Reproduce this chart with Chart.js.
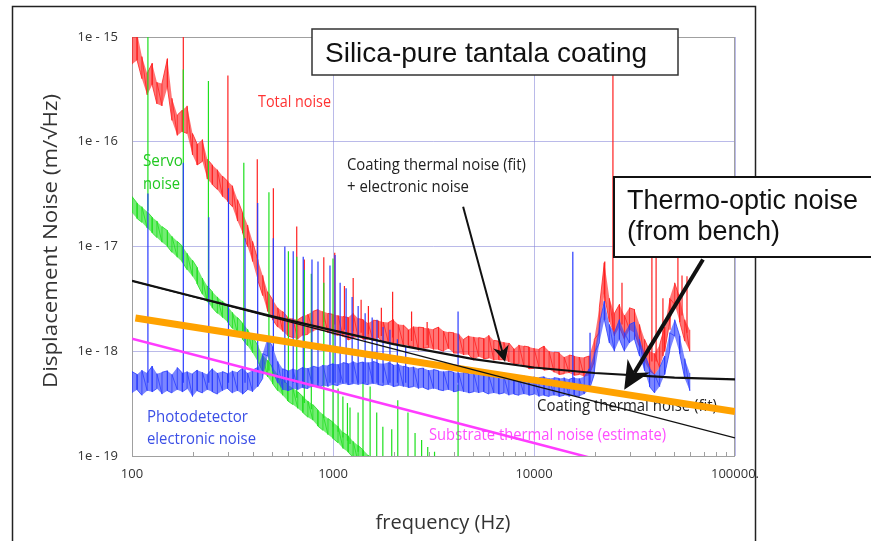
<!DOCTYPE html>
<html>
<head>
<meta charset="utf-8">
<script src="https://cdn.jsdelivr.net/npm/chart.js@4.4.1/dist/chart.umd.min.js"></script>
<style>
  html, body { margin: 0; padding: 0; background: #fff; }
  canvas { display: block; }
</style>
</head>
<body>
<canvas id="noiseChart" width="871" height="541"></canvas>
<script>
// spectrum bins (Hz), shared by the measured traces
const freqHz = [100, 106, 112, 119, 126, 133, 141, 150, 158, 168,
  178, 188, 200, 211, 224, 237, 251, 266, 282, 299,
  316, 335, 355, 376, 398, 422, 447, 473, 501, 531,
  562, 596, 631, 668, 708, 750, 794, 841, 891, 944,
  1000, 1059, 1122, 1189, 1259, 1334, 1413, 1496, 1585, 1679,
  1778, 1884, 1995, 2113, 2239, 2371, 2512, 2661, 2818, 2985,
  3162, 3350, 3548, 3758, 3981, 4217, 4467, 4732, 5012, 5309,
  5623, 5957, 6310, 6683, 7079, 7499, 7943, 8414, 8913, 9441,
  10000, 10593, 11220, 11885, 12589, 13335, 14125, 14962, 15849, 16788,
  17783, 18836, 19953, 21135, 22387, 23714, 25119, 26607, 28184, 29854,
  31623, 33497, 35481, 37584, 39811, 42170, 44668, 47315, 50119, 53088,
  56234, 59566];

// measured displacement noise, m/sqrt(Hz): low and high reading in each bin
const totalNoiseMin = [5.5e-16, 6.0e-16, 4.0e-16, 2.8e-16, 3.5e-16, 2.3e-16, 2.2e-16, 3.3e-16, 1.6e-16, 1.15e-16,
  1.25e-16, 1.2e-16, 7.5e-17, 6.0e-17, 6.5e-17, 4.4e-17, 3.9e-17, 3.5e-17, 3.0e-17, 2.7e-17,
  2.4e-17, 1.75e-17, 1.35e-17, 1.0e-17, 7.2e-18, 4.8e-18, 3.4e-18, 2.4e-18, 2.0e-18, 1.7e-18,
  1.55e-18, 1.4e-18, 1.35e-18, 1.3e-18, 1.42e-18, 1.45e-18, 1.55e-18, 1.62e-18, 1.58e-18, 1.5e-18,
  1.45e-18, 1.42e-18, 1.38e-18, 1.28e-18, 1.34e-18, 1.36e-18, 1.3e-18, 1.31e-18, 1.26e-18, 1.35e-18,
  1.22e-18, 1.23e-18, 1.19e-18, 1.18e-18, 1.15e-18, 1.14e-18, 1.1e-18, 1.02e-18, 1.07e-18, 1.08e-18,
  1.04e-18, 1.04e-18, 1.0e-18, 1.06e-18, 9.6e-19, 9.6e-19, 9.2e-19, 9.3e-19, 8.2e-19, 8.9e-19,
  8.5e-19, 8.6e-19, 8.2e-19, 8.3e-19, 8.3e-19, 7.9e-19, 7.5e-19, 7.6e-19, 7.2e-19, 6.8e-19,
  6.9e-19, 7.0e-19, 6.6e-19, 6.7e-19, 6.3e-19, 6.0e-19, 6.1e-19, 6.2e-19, 5.9e-19, 6.0e-19,
  5.7e-19, 5.9e-19, 8.0e-19, 1.5e-18, 3.5e-18, 1.9e-18, 1.4e-18, 1.7e-18, 1.3e-18, 1.6e-18,
  1.5e-18, 1.1e-18, 8.0e-19, 6.5e-19, 6.0e-19, 7.0e-19, 1.0e-18, 1.9e-18, 2.8e-18, 1.9e-18,
  1.25e-18, 1.0e-18];
const totalNoiseMax = [1.1e-15, 1.1e-15, 6.5e-16, 4.5e-16, 5.6e-16, 3.7e-16, 3.6e-16, 6.2e-16, 2.6e-16, 1.8e-16,
  2.0e-16, 2.2e-16, 1.2e-16, 9.5e-17, 1.05e-16, 6.8e-17, 6.0e-17, 5.4e-17, 4.7e-17, 4.2e-17,
  3.8e-17, 2.8e-17, 2.1e-17, 1.6e-17, 1.12e-17, 7.5e-18, 5.3e-18, 3.7e-18, 3.1e-18, 2.6e-18,
  2.4e-18, 2.1e-18, 2.05e-18, 2.0e-18, 2.15e-18, 2.25e-18, 2.4e-18, 2.5e-18, 2.4e-18, 2.3e-18,
  2.25e-18, 2.2e-18, 2.15e-18, 2.1e-18, 2.3e-18, 2.05e-18, 2.0e-18, 1.85e-18, 1.98e-18, 1.95e-18,
  1.9e-18, 1.88e-18, 2.0e-18, 1.8e-18, 1.78e-18, 1.6e-18, 1.72e-18, 1.7e-18, 1.68e-18, 1.65e-18,
  1.62e-18, 1.7e-18, 1.56e-18, 1.52e-18, 1.5e-18, 1.47e-18, 1.3e-18, 1.4e-18, 1.37e-18, 1.35e-18,
  1.32e-18, 1.42e-18, 1.27e-18, 1.25e-18, 1.22e-18, 1.2e-18, 1.05e-18, 1.15e-18, 1.12e-18, 1.1e-18,
  1.07e-18, 1.05e-18, 1.12e-18, 1.0e-18, 9.8e-19, 9.7e-19, 8.8e-19, 9.2e-19, 9.0e-19, 8.8e-19,
  8.7e-19, 9.0e-19, 1.3e-18, 2.6e-18, 7.0e-18, 3.2e-18, 2.3e-18, 2.8e-18, 2.2e-18, 2.6e-18,
  2.5e-18, 1.8e-18, 1.3e-18, 1.0e-18, 9.5e-19, 1.15e-18, 1.7e-18, 3.2e-18, 4.5e-18, 3.2e-18,
  2.0e-18, 1.6e-18];

const photodetectorMin = [4.0e-19, 4.3e-19, 3.8e-19, 4.2e-19, 4.1e-19, 4.4e-19, 3.9e-19, 4.2e-19, 4.0e-19, 4.3e-19,
  4.1e-19, 4.4e-19, 3.7e-19, 4.2e-19, 4.0e-19, 4.3e-19, 4.1e-19, 3.9e-19, 4.2e-19, 4.4e-19,
  4.0e-19, 4.2e-19, 3.9e-19, 4.3e-19, 4.1e-19, 4.6e-19, 5.5e-19, 9.0e-19, 6.5e-19, 5.0e-19,
  4.3e-19, 4.2e-19, 4.4e-19, 4.3e-19, 4.5e-19, 4.4e-19, 4.6e-19, 4.5e-19, 4.7e-19, 4.6e-19,
  4.8e-19, 4.7e-19, 4.9e-19, 4.8e-19, 4.9e-19, 4.8e-19, 4.9e-19, 4.8e-19, 4.9e-19, 4.8e-19,
  4.7e-19, 4.8e-19, 4.6e-19, 4.7e-19, 4.6e-19, 4.5e-19, 4.6e-19, 4.4e-19, 4.5e-19, 4.3e-19,
  4.4e-19, 4.3e-19, 4.2e-19, 4.3e-19, 4.1e-19, 4.2e-19, 4.1e-19, 4.0e-19, 4.1e-19, 4.0e-19,
  4.1e-19, 3.9e-19, 4.0e-19, 3.9e-19, 4.0e-19, 3.8e-19, 3.9e-19, 3.8e-19, 3.9e-19, 3.8e-19,
  3.9e-19, 3.7e-19, 3.8e-19, 3.7e-19, 3.8e-19, 3.7e-19, 3.8e-19, 3.7e-19, 3.8e-19, 3.7e-19,
  3.9e-19, 4.3e-19, 6.0e-19, 1.2e-18, 2.0e-18, 1.2e-18, 1.0e-18, 1.3e-18, 1.0e-18, 1.2e-18,
  1.3e-18, 9.0e-19, 6.5e-19, 4.6e-19, 4.0e-19, 4.6e-19, 6.0e-19, 1.0e-18, 1.4e-18, 9.5e-19,
  5.5e-19, 4.2e-19];
const photodetectorMax = [6.4e-19, 6.0e-19, 6.6e-19, 6.2e-19, 7.2e-19, 6.1e-19, 6.3e-19, 6.5e-19, 6.0e-19, 7.0e-19,
  6.2e-19, 6.4e-19, 6.1e-19, 6.6e-19, 6.3e-19, 6.0e-19, 6.8e-19, 6.2e-19, 6.4e-19, 6.1e-19,
  6.5e-19, 6.3e-19, 6.9e-19, 6.2e-19, 6.6e-19, 7.0e-19, 9.5e-19, 1.35e-18, 1.1e-18, 8.0e-19,
  6.8e-19, 6.5e-19, 6.8e-19, 6.6e-19, 7.0e-19, 6.9e-19, 7.2e-19, 7.0e-19, 7.4e-19, 7.3e-19,
  7.6e-19, 7.5e-19, 7.8e-19, 7.6e-19, 8.0e-19, 7.7e-19, 7.9e-19, 7.8e-19, 8.0e-19, 7.7e-19,
  7.6e-19, 7.8e-19, 7.4e-19, 7.5e-19, 7.2e-19, 7.0e-19, 7.1e-19, 6.8e-19, 6.9e-19, 6.6e-19,
  6.7e-19, 6.5e-19, 6.4e-19, 6.5e-19, 6.3e-19, 6.2e-19, 6.3e-19, 6.1e-19, 6.2e-19, 6.0e-19,
  6.1e-19, 5.9e-19, 6.0e-19, 5.9e-19, 5.8e-19, 5.9e-19, 5.8e-19, 5.7e-19, 5.8e-19, 5.6e-19,
  5.7e-19, 5.6e-19, 5.7e-19, 5.5e-19, 5.6e-19, 5.5e-19, 5.6e-19, 5.4e-19, 5.6e-19, 5.5e-19,
  5.7e-19, 6.8e-19, 9.5e-19, 1.8e-18, 3.0e-18, 1.8e-18, 1.5e-18, 2.0e-18, 1.5e-18, 1.8e-18,
  1.9e-18, 1.3e-18, 9.5e-19, 7.0e-19, 6.0e-19, 7.0e-19, 9.0e-19, 1.5e-18, 2.0e-18, 1.4e-18,
  8.5e-19, 6.2e-19];

// servo trace falls below the plot floor above ~1.5 kHz
const servoMin = [2.1e-17, 1.85e-17, 1.7e-17, 1.5e-17, 1.35e-17, 1.22e-17, 1.1e-17, 1.0e-17, 8.8e-18, 7.9e-18,
  7.1e-18, 6.0e-18, 5.2e-18, 4.4e-18, 3.5e-18, 2.95e-18, 2.6e-18, 2.3e-18, 2.1e-18, 1.9e-18,
  1.65e-18, 1.47e-18, 1.3e-18, 1.13e-18, 9.7e-19, 8.0e-19, 6.4e-19, 5.7e-19, 4.9e-19, 4.2e-19,
  3.8e-19, 3.35e-19, 3.1e-19, 2.85e-19, 2.6e-19, 2.35e-19, 2.2e-19, 1.93e-19, 1.76e-19, 1.6e-19,
  1.47e-19, 1.34e-19, 1.18e-19, 1.09e-19, 9.7e-20, 8.8e-20, 8.0e-20, 7.1e-20, 6.5e-20];
const servoMax = [3.0e-17, 2.6e-17, 2.4e-17, 2.15e-17, 1.9e-17, 1.75e-17, 1.55e-17, 1.42e-17, 1.25e-17, 1.12e-17,
  1.01e-17, 8.6e-18, 7.4e-18, 6.3e-18, 5.0e-18, 4.2e-18, 3.7e-18, 3.3e-18, 3.0e-18, 2.7e-18,
  2.35e-18, 2.1e-18, 1.85e-18, 1.62e-18, 1.38e-18, 1.14e-18, 9.1e-19, 8.2e-19, 7.0e-19, 6.0e-19,
  5.4e-19, 4.8e-19, 4.45e-19, 4.1e-19, 3.7e-19, 3.35e-19, 3.1e-19, 2.75e-19, 2.5e-19, 2.28e-19,
  2.1e-19, 1.92e-19, 1.68e-19, 1.56e-19, 1.38e-19, 1.26e-19, 1.14e-19, 1.02e-19, 9.4e-20];

// narrow lines: [frequency, floor, peak]
const totalLines = [[180, 1.6e-16, 3e-15], [300, 3.2e-17, 4.3e-16], [420, 6e-18, 6.8e-17],
  [505, 2.4e-18, 3.6e-17], [660, 1.7e-18, 1.55e-17], [720, 1.8e-18, 7.5e-18],
  [900, 1.9e-18, 7.9e-18], [1020, 1.8e-18, 8.7e-18], [1140, 1.6e-18, 4.2e-18],
  [1260, 1.55e-18, 5.0e-18], [1380, 1.5e-18, 3.1e-18], [1500, 1.45e-18, 2.7e-18],
  [1740, 1.4e-18, 2.6e-18], [1980, 1.35e-18, 3.7e-18], [2460, 1.25e-18, 2.4e-18],
  [2940, 1.15e-18, 1.9e-18], [22500, 2.0e-18, 7.2e-18], [24700, 1.6e-18, 3e-15],
  [27400, 1.8e-18, 4.5e-18], [38600, 8e-19, 1.3e-17], [40500, 8e-19, 1.3e-17],
  [43800, 9e-19, 3.2e-18], [47500, 1.6e-18, 3.1e-18], [52000, 3e-18, 1.3e-17],
  [54500, 2.2e-18, 5.3e-18], [57700, 1.5e-18, 5.2e-18]];

const photodetectorLines = [[120, 5e-19, 3.2e-17], [180, 5e-19, 6.3e-17], [241, 5e-19, 1.9e-17],
  [302, 5e-19, 3.6e-17], [365, 5e-19, 1.2e-17], [422, 5e-19, 2.6e-17], [505, 1e-18, 1.2e-17],
  [576, 5e-19, 1.0e-17], [634, 5e-19, 9e-18], [711, 5e-19, 8e-18], [786, 5e-19, 7.5e-18],
  [842, 5e-19, 7.2e-18], [966, 5e-19, 6.6e-18], [1024, 5e-19, 8.3e-18], [1085, 5e-19, 4.5e-18],
  [1162, 5e-19, 4.0e-18], [1245, 5e-19, 3.3e-18], [1334, 5e-19, 2.7e-18], [1445, 5e-19, 2.3e-18],
  [1566, 5e-19, 2.1e-18], [1655, 5e-19, 2.0e-18], [1774, 5e-19, 1.7e-18], [1920, 5e-19, 1.6e-18],
  [2090, 5e-19, 1.3e-18], [2300, 5e-19, 1.1e-18], [4190, 5e-19, 2.4e-18],
  [15600, 5e-19, 8.9e-18], [19000, 5e-19, 1.5e-18]];

const servoLines = [[120, 2.2e-17, 3e-15], [180, 8.5e-18, 4.9e-16], [240, 3.3e-18, 3.8e-16],
  [360, 1.5e-18, 6.3e-17], [480, 6.5e-19, 3.3e-17], [600, 4.3e-19, 9e-18], [660, 3.6e-19, 8e-18],
  [720, 3.2e-19, 6e-18], [780, 2.8e-19, 5.5e-18], [900, 2.3e-19, 4.5e-18], [1000, 1.9e-19, 7.7e-18],
  [1060, 1.7e-19, 4.4e-19], [1120, 1.5e-19, 3.7e-19], [1180, 1.4e-19, 3.2e-19], [1215, 1.3e-19, 2.9e-19],
  [1333, 1.1e-19, 2.6e-19], [1410, 5e-20, 5.1e-19], [1530, 5e-20, 4.6e-19], [1650, 5e-20, 2.6e-19],
  [1770, 5e-20, 1.9e-19], [1960, 5e-20, 1.8e-19], [2100, 5e-20, 3.4e-19], [2360, 5e-20, 2.6e-19],
  [2560, 5e-20, 1.66e-19], [2760, 5e-20, 1.42e-19], [2960, 5e-20, 1.22e-19], [3200, 5e-20, 1.1e-19],
  [4190, 5e-20, 4.8e-19]];

// model curves: [frequency, value]
const coatingPlusElectronic = [[100, 4.7e-18], [200, 3.35e-18], [500, 2.15e-18], [1000, 1.58e-18],
  [2000, 1.17e-18], [5000, 8.4e-19], [10000, 7.0e-19], [20000, 6.2e-19], [50000, 5.6e-19], [100000, 5.4e-19]];
const coatingFit = [[100, 4.7e-18], [1000, 1.49e-18], [10000, 4.7e-19], [100000, 1.49e-19]];
const thermoOptic = [[104, 2.08e-18], [1000, 1.05e-18], [10000, 5.3e-19], [100000, 2.65e-19]];
const substrateEstimate = [[100, 1.32e-18], [1000, 4.2e-19], [10000, 1.33e-19], [100000, 4.2e-20]];

const xTicks = [100, 1000, 10000, 100000];
const xTickLabels = ['100', '1000', '10000', '100000.'];
const yTicks = [1e-19, 1e-18, 1e-17, 1e-16, 1e-15];
const yTickLabels = ['1e - 19', '1e - 18', '1e - 17', '1e - 16', '1e - 15'];
const xMinorTicks = [200, 300, 400, 500, 600, 700, 800, 900, 2000, 3000, 4000, 5000, 6000, 7000, 8000, 9000,
  20000, 30000, 40000, 50000, 60000, 70000, 80000, 90000];

// arrows, anchored in data space: [from, to]
const fitArrow = [[4440, 2.4e-17], [7180, 7.9e-19]];
const benchArrow = [[69300, 7.5e-18], [28100, 4.3e-19]];

const SANS = '"Open Sans", "Noto Sans", sans-serif';
const ARIAL = '"Liberation Sans", Arial, sans-serif';

// curve labels: text, left, baseline, colour, size, squeezed width
const curveLabels = [
  ['Total noise', 258, 107, '#ff3333', 17, 73],
  ['Servo', 143, 166, '#22c822', 17, 40],
  ['noise', 143, 189, '#22c822', 17, 37],
  ['Coating thermal noise (fit)', 347, 170, '#222', 17, 179],
  ['+ electronic noise', 347, 192, '#222', 17, 122],
  ['Photodetector', 147, 422, '#3b4fe6', 17, 101],
  ['electronic noise', 147, 444, '#3b4fe6', 17, 109],
  ['Substrate thermal noise (estimate)', 429, 440, '#ff4dff', 17, 237],
  ['Coating thermal noise (fit)', 537, 411, '#222', 17, 180]
];

// each bin is drawn as a stroke between its low and high reading
const band = (lo, hi) => lo.flatMap((v, i) => {
  const a = { x: freqHz[i], y: v }, b = { x: freqHz[i], y: hi[i] };
  return i % 3 === 1 ? [b, a] : [a, b];
});
const edge = (vals) => vals.map((v, i) => ({ x: freqHz[i], y: v }));
const xy = (list) => list.map(([x, y]) => ({ x, y }));
const lines = (list) => list.flatMap(([f, lo, hi]) => [{ x: f, y: lo }, { x: f, y: hi }, { x: f, y: null }]);

function trace(data, color, width) {
  return {
    data, borderColor: color, borderWidth: width, pointRadius: 0,
    tension: 0, fill: false, spanGaps: false, borderCapStyle: 'butt'
  };
}

// shaded envelope between the low and high readings: returns [upper, lower]
function envelope(lo, hi, shade) {
  return [
    { data: edge(hi), borderWidth: 0, pointRadius: 0, tension: 0, fill: '+1', backgroundColor: shade },
    { data: edge(lo), borderWidth: 0, pointRadius: 0, tension: 0, fill: false }
  ];
}

function squeezedText(ctx, text, x, y, font, color, width, align) {
  ctx.save();
  ctx.font = font;
  ctx.fillStyle = color;
  ctx.textBaseline = 'alphabetic';
  const w = ctx.measureText(text).width;
  const sx = width ? width / w : 1;
  ctx.translate(x, y);
  ctx.scale(sx, 1);
  ctx.fillText(text, align === 'center' ? -w / 2 : 0, 0);
  ctx.restore();
}

function drawArrow(ctx, x1, y1, x2, y2, lw, headLen, headHalf) {
  const a = Math.atan2(y2 - y1, x2 - x1);
  const c = Math.cos(a), s = Math.sin(a);
  const bx = x2 - headLen * c, by = y2 - headLen * s;
  const nx = x2 - headLen * 0.7 * c, ny = y2 - headLen * 0.7 * s;
  ctx.lineWidth = lw;
  ctx.beginPath();
  ctx.moveTo(x1, y1);
  ctx.lineTo(nx, ny);
  ctx.stroke();
  ctx.beginPath();
  ctx.moveTo(x2, y2);
  ctx.lineTo(bx + headHalf * s, by - headHalf * c);
  ctx.lineTo(nx, ny);
  ctx.lineTo(bx - headHalf * s, by + headHalf * c);
  ctx.closePath();
  ctx.fill();
}

const decorations = {
  id: 'decorations',
  beforeDraw(chart) {
    const ctx = chart.ctx;
    ctx.save();
    ctx.strokeStyle = '#222';
    ctx.lineWidth = 1.5;
    ctx.strokeRect(12.5, 6.5, 743, 560);
    ctx.restore();
  },
  beforeDatasetsDraw(chart) {
    const ctx = chart.ctx;
    const { left, right, top, bottom } = chart.chartArea;
    const xs = chart.scales.x;
    ctx.save();
    ctx.strokeStyle = '#a0a0a0';
    ctx.lineWidth = 1;
    ctx.strokeRect(left + 0.5, top + 0.5, right - left - 1, bottom - top);
    ctx.beginPath();
    xMinorTicks.forEach(f => {
      const px = Math.round(xs.getPixelForValue(f)) + 0.5;
      ctx.moveTo(px, bottom);
      ctx.lineTo(px, bottom - 4);
    });
    ctx.stroke();
    curveLabels.forEach(([t, x, y, c, size, w]) => squeezedText(ctx, t, x, y, `${size}px ${SANS}`, c, w));
    ctx.restore();
  },
  afterDraw(chart) {
    const ctx = chart.ctx;
    const xs = chart.scales.x, ys = chart.scales.y;
    const px = ([f, v]) => [xs.getPixelForValue(f), ys.getPixelForValue(v)];
    ctx.save();

    // axis titles
    squeezedText(ctx, 'frequency (Hz)', 443, 529, `20px ${SANS}`, '#333', 135, 'center');
    ctx.save();
    ctx.translate(57, 241);
    ctx.rotate(-Math.PI / 2);
    squeezedText(ctx, 'Displacement Noise (m/\u221AHz)', 0, 0, `20px ${SANS}`, '#333', 294, 'center');
    ctx.restore();

    // arrows
    ctx.strokeStyle = '#111';
    ctx.fillStyle = '#111';
    let [a, b] = [px(fitArrow[0]), px(fitArrow[1])];
    drawArrow(ctx, a[0], a[1], b[0], b[1], 2, 16, 8);

    // title boxes
    ctx.fillStyle = '#fff';
    ctx.fillRect(312, 29, 366, 46);
    ctx.strokeStyle = '#333';
    ctx.lineWidth = 1.5;
    ctx.strokeRect(312, 29, 366, 46);
    squeezedText(ctx, 'Silica-pure tantala coating', 325, 62, `28px ${ARIAL}`, '#111');

    ctx.fillStyle = '#fff';
    ctx.fillRect(614, 177, 270, 80);
    ctx.strokeStyle = '#111';
    ctx.lineWidth = 2;
    ctx.strokeRect(614, 177, 270, 80);
    squeezedText(ctx, 'Thermo-optic noise', 627, 209, `27px ${ARIAL}`, '#111');
    squeezedText(ctx, '(from bench)', 627, 240, `27px ${ARIAL}`, '#111');

    ctx.strokeStyle = '#111';
    ctx.fillStyle = '#111';
    [a, b] = [px(benchArrow[0]), px(benchArrow[1])];
    drawArrow(ctx, a[0], a[1], b[0], b[1], 4, 28, 13);
    ctx.restore();
  }
};

const tickFont = { family: SANS, size: 13 };

new Chart(document.getElementById('noiseChart'), {
  type: 'line',
  data: {
    datasets: [
      trace(xy(coatingPlusElectronic), '#111', 2.2),
      trace(xy(coatingFit), '#111', 1.4),
      trace(xy(thermoOptic), '#ffa200', 7),
      trace(xy(substrateEstimate), '#ff3cff', 2.5),
      trace(lines(photodetectorLines), '#2a3cff', 1.2),
      trace(band(photodetectorMin, photodetectorMax), '#2a3cff', 0.8),
      ...envelope(photodetectorMin, photodetectorMax, 'rgba(42,60,255,0.62)'),
      trace(lines(servoLines), '#1ee01e', 1.2),
      trace(band(servoMin, servoMax), '#1ee01e', 0.8),
      ...envelope(servoMin, servoMax, 'rgba(30,224,30,0.62)'),
      trace(lines(totalLines), '#ff2020', 1.2),
      trace(band(totalNoiseMin, totalNoiseMax), '#ff2020', 0.8),
      ...envelope(totalNoiseMin, totalNoiseMax, 'rgba(255,32,32,0.62)')
    ]
  },
  options: {
    responsive: false,
    animation: false,
    layout: { padding: { left: 0, top: 37, right: 136, bottom: 0 } },
    plugins: { legend: { display: false }, tooltip: { enabled: false } },
    scales: {
      x: {
        type: 'logarithmic',
        min: 100,
        max: 100000,
        afterBuildTicks: s => { s.ticks = xTicks.map(v => ({ value: v })); },
        afterFit: s => { s.height = 85; },
        ticks: {
          callback: (v, i) => xTickLabels[i],
          font: tickFont, color: '#333', padding: 10, maxRotation: 0, autoSkip: false
        },
        grid: { color: 'rgba(130,130,215,0.55)', drawTicks: false },
        border: { display: false }
      },
      y: {
        type: 'logarithmic',
        min: 1e-19,
        max: 1e-15,
        afterBuildTicks: s => { s.ticks = yTicks.map(v => ({ value: v })); },
        afterFit: s => { s.width = 132; },
        ticks: {
          callback: (v, i) => yTickLabels[i],
          font: tickFont, color: '#333', padding: 14, autoSkip: false
        },
        grid: { color: 'rgba(130,130,215,0.55)', drawTicks: false },
        border: { display: false }
      }
    }
  },
  plugins: [decorations]
});
</script>
</body>
</html>
